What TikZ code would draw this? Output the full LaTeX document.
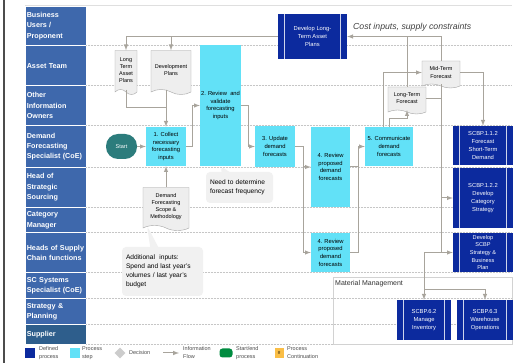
\documentclass[tikz,border=0pt]{standalone}
\usepackage{fontspec}
\setmainfont{Liberation Sans}
\usetikzlibrary{shapes.symbols,shapes.callouts,shapes.geometric}

\definecolor{lanebg}{RGB}{62,104,172}
\definecolor{supplierbg}{RGB}{46,94,140}
\definecolor{procstep}{RGB}{98,225,247}
\definecolor{defproc}{RGB}{12,42,158}
\definecolor{startbg}{RGB}{44,124,124}
\definecolor{flowgray}{RGB}{168,164,156}
\definecolor{docgray}{RGB}{238,238,238}
\definecolor{notegray}{RGB}{241,241,241}
\definecolor{startgreen}{RGB}{0,140,64}
\definecolor{contorange}{RGB}{250,190,70}

\tikzset{
  lane/.style={fill=lanebg, draw=white, line width=.6pt, anchor=north west,
    minimum width=61pt, text width=58pt, inner xsep=1.5pt, inner ysep=0pt,
    align=left, text=white, font=\bfseries\fontsize{7.2}{10.4}\selectfont},
  divider/.style={gray!45, densely dotted, line width=.5pt},
  procbox/.style={fill=procstep, inner sep=1pt, align=center,
    font=\fontsize{5.8}{7.7}\selectfont},
  startbox/.style={fill=startbg, rounded corners=12pt, minimum width=31pt,
    minimum height=25pt, text=white, font=\fontsize{5.5}{6}\selectfont},
  defbox/.style={fill=defproc, text=white, inner sep=1pt, align=center,
    font=\fontsize{5.8}{8.2}\selectfont,
    path picture={\draw [white!80!defproc, line width=.8pt]
      ([xshift=6.5pt]path picture bounding box.north west) -- ([xshift=6.5pt]path picture bounding box.south west)
      ([xshift=-6.5pt]path picture bounding box.north east) -- ([xshift=-6.5pt]path picture bounding box.south east);}},
  docbox/.style={tape, tape bend top=none, tape bend bottom=out and in,
    tape bend height=5pt, draw=gray!70, fill=docgray, inner sep=1pt,
    align=center, font=\fontsize{5.5}{7.2}\selectfont},
  note/.style={rectangle callout, fill=notegray, rounded corners=4pt,
    callout pointer width=8pt, inner xsep=4pt, align=left,
    font=\fontsize{6.6}{9}\selectfont},
  flow/.style={draw=flowgray, line width=1pt, -latex},
  link/.style={draw=flowgray, line width=1pt},
  legendtext/.style={anchor=west, align=left, inner sep=0pt, text=black!70,
    font=\fontsize{5.5}{8}\selectfont}
}

\begin{document}
\begin{tikzpicture}[x=1pt,y=-1pt]
\fill [white] (0,0) rectangle (515,363);
\useasboundingbox (0,0) rectangle (515,363);
\draw [black!70, line width=1.2pt] (4,0) -- (4,363);
\draw [gray!25, line width=.8pt] (25,5) -- (512,5);

\node [lane, minimum height=39.5pt] (busu) at (25,6) {Business\\Users /\\Proponent};
\node [lane, minimum height=40pt] (asset) at (25,45.5) {Asset Team};
\node [lane, minimum height=40pt] (other) at (25,85.5) {Other\\Information\\Owners};
\node [lane, minimum height=41.5pt] (dfs) at (25,125.5) {Demand\\Forecasting\\Specialist (CoE)};
\node [lane, minimum height=40.5pt] (hss) at (25,167) {Head of\\Strategic\\Sourcing};
\node [lane, minimum height=25pt] (catm) at (25,207.5) {Category\\Manager};
\node [lane, minimum height=40pt] (hsc) at (25,232.5) {Heads of Supply\\Chain functions};
\node [lane, minimum height=26pt] (scss) at (25,272.5) {SC Systems\\Specialist (CoE)};
\node [lane, minimum height=26pt] (stratp) at (25,298.5) {Strategy \&\\Planning};
\node [lane, fill=supplierbg, minimum height=20pt] (suppl) at (25,324.5) {Supplier};

\draw [divider] (86,45.5) -- (512,45.5);
\draw [divider] (86,85.5) -- (512,85.5);
\draw [divider] (86,125.5) -- (512,125.5);
\draw [divider] (86,167) -- (512,167);
\draw [divider] (86,207.5) -- (512,207.5);
\draw [divider] (86,232.5) -- (512,232.5);
\draw [divider] (86,272.5) -- (512,272.5);
\draw [divider] (86,298.5) -- (512,298.5);
\draw [divider] (86,324.5) -- (512,324.5);
\draw [divider] (86,344.5) -- (512,344.5);

\node [startbox] (start) at (121.5,146.5) {Start};
\node [procbox, minimum width=40pt, minimum height=39pt] (collect) at (166,146.5) {1. Collect\\necessary\\forecasting\\inputs};
\node [procbox, minimum width=39pt, minimum height=121pt] (validate) at (220.5,105.5) {2. Review\ \ and\\validate\\forecasting\\inputs};
\node [procbox, minimum width=40pt, minimum height=41pt] (update) at (275,146.5) {3. Update\\demand\\forecasts};
\node [procbox, minimum width=39pt, minimum height=80pt] (reviewa) at (330.5,167) {4. Review\\proposed\\demand\\forecasts};
\node [procbox, minimum width=39pt, minimum height=39pt] (reviewb) at (330.5,252.5) {4. Review\\proposed\\demand\\forecasts};
\node [procbox, minimum width=48pt, minimum height=39pt] (communicate) at (389,146.5) {5. Communicate\\demand\\forecasts};

\node [docbox, minimum width=22pt, minimum height=44pt] (ltap) at (126,70) {Long\\Term\\Asset\\Plans};
\node [docbox, minimum width=40pt, minimum height=44pt] (devp) at (171,70) {Development\\Plans};
\node [docbox, minimum width=46pt, minimum height=43pt] (dfsm) at (166,206.5) {Demand\\Forecasting\\Scope \&\\Methodology};
\node [docbox, minimum width=38pt, minimum height=27pt, tape bend height=4pt] (ltf) at (407,98.5) {Long-Term\\Forecast};
\node [docbox, minimum width=38pt, minimum height=27pt, tape bend height=4pt] (mtf) at (441,72.5) {Mid-Term\\Forecast};

\node [defbox, minimum width=69pt, minimum height=45pt] (ltplan) at (312.5,36.5) {Develop Long-\\Term Asset\\Plans};
\node [defbox, minimum width=60pt, minimum height=39pt] (fcst) at (483,145.5) {SCBP.1.1.2\\Forecast\\Short-Term\\Demand};
\node [defbox, minimum width=60pt, minimum height=60pt] (catstrat) at (483,198) {SCBP.1.2.2\\Develop\\Category\\Strategy};
\node [defbox, minimum width=60pt, minimum height=39pt, font=\fontsize{5.6}{7.6}\selectfont] (bizplan) at (483,252.5) {Develop\\SCBP\\Strategy \&\\Business\\Plan};
\node [draw=gray!35, anchor=north west, minimum width=179pt, minimum height=67pt] (matmgmt) at (333,277) {};
\node [anchor=north west, inner sep=1pt, text=black!80, font=\fontsize{7}{8}\selectfont] (matmgmtlbl) at (334,279) {Material Management};
\node [defbox, minimum width=54pt, minimum height=40pt] (inventory) at (424,320) {SCBP.6.2\\Manage\\Inventory};
\node [defbox, minimum width=56pt, minimum height=40pt] (warehouse) at (485,320) {SCBP.6.3\\Warehouse\\Operations};

\node [note, minimum width=67pt, minimum height=31pt, text width=59pt, callout absolute pointer={(validate.south)}] (freq) at (239.5,187.5) {Need to determine\\forecast frequency};
\node [note, minimum width=81pt, minimum height=49pt, text width=73pt, callout absolute pointer={([xshift=-19pt]dfsm.south)}] (addin) at (162.5,271.5) {Additional\ \ inputs:\\Spend and last year's\\volumes / last year's\\budget};
\node [anchor=west, inner sep=0pt, text=black!75, font=\itshape\fontsize{8.7}{10}\selectfont] (costin) at (353,27) {Cost inputs, supply constraints};

\draw [flow] (start) -- (collect);
\draw [flow] (collect.east) -- ++(6,0) |- (validate.west);
\draw [flow] (validate.east) -- ++(7,0) |- (update.west);
\draw [flow] (update.east) -- ++(8,0) |- (reviewa.west);
\draw [flow] (update.east) -- ++(8,0) |- (reviewb.west);
\draw [flow] (reviewa.east) -- ++(8,0) |- (communicate.west);
\draw [link] (reviewb.east) -| ([xshift=8pt]reviewa.east);
\draw [flow] ([xshift=-6pt]communicate.north) |- (mtf.west);
\draw [flow] (communicate.north) -- ++(0,-8) -| (ltf.south);
\draw [link] (ltf.north) -- (ltf.north |- ltplan.east);
\draw [flow] (mtf.north) |- (ltplan.east);
\draw [flow] (ltplan.west) -| (ltap.north);
\draw [flow] (devp.north |- ltplan.west) -- (devp.north);
\coordinate (plansjoin) at (166,108);
\draw [link] (ltap.south) |- (plansjoin);
\draw [link] (devp.south -| plansjoin) -- (plansjoin);
\draw [flow] (plansjoin) -- (collect.north);
\draw [flow] (dfsm.north) -- (collect.south);
\draw [link] (ltf.east) -- (ltf.east -| mtf.south);
\draw [flow] (mtf.south) |- (catstrat.west);
\draw [flow] (mtf.south) |- (bizplan.west);
\draw [flow] (bizplan.west -| mtf.south) -| (inventory.north);
\coordinate (whjoin) at (424,290);
\draw [flow] (whjoin) -| (warehouse.north);
\draw [flow] (mtf.east) -| (fcst.north);

\node [fill=defproc, minimum size=10pt, inner sep=0pt] (lgdef) at (30,353) {};
\node [legendtext] (lgdeftxt) at (39,353) {Defined\\process};
\node [fill=procstep, minimum size=10pt, inner sep=0pt] (lgproc) at (75,353) {};
\node [legendtext] (lgproctxt) at (82,353) {Process\\step};
\node [diamond, fill=gray!40, minimum size=11pt, inner sep=0pt] (lgdec) at (120,353) {};
\node [legendtext] (lgdectxt) at (129,353) {Decision};
\coordinate (lgflowa) at (163,353);
\coordinate (lgflowb) at (179,353);
\draw [flow] (lgflowa) -- (lgflowb);
\node [legendtext] (lgflowtxt) at (183,353) {Information\\Flow};
\node [fill=startgreen, rounded corners=3pt, minimum width=13pt, minimum height=9pt, inner sep=0pt] (lgstart) at (226,353) {};
\node [legendtext] (lgstarttxt) at (236,353) {Start/end\\process};
\node [fill=contorange, minimum width=9pt, minimum height=10pt, inner sep=0pt, font=\fontsize{4.5}{5}\selectfont] (lgcont) at (279,353) {\#};
\node [legendtext] (lgconttxt) at (287,353) {Process\\Continuation};
\end{tikzpicture}
\end{document}
